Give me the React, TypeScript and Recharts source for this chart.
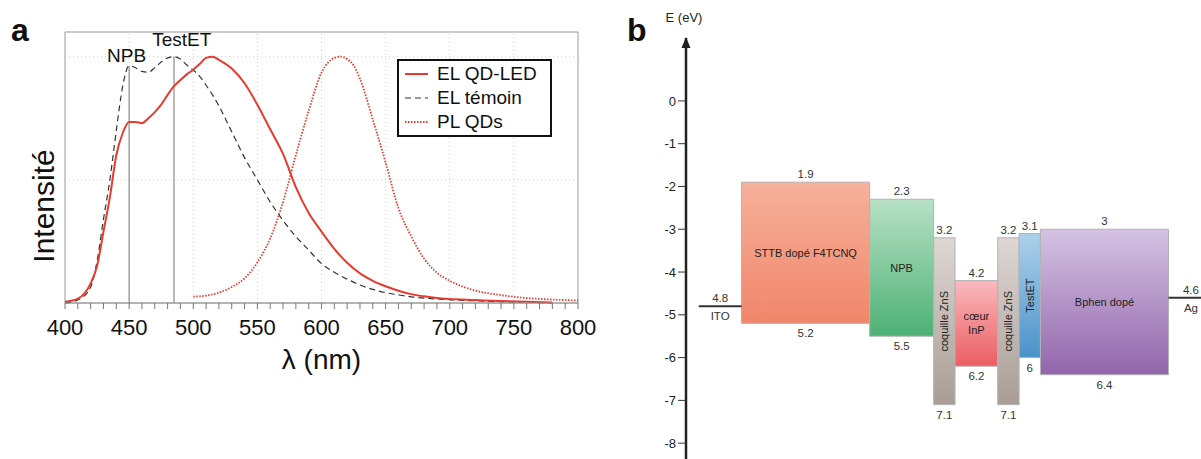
import {
  ComposedChart,
  Legend,
  Line,
  LineChart,
  ReferenceArea,
  ReferenceDot,
  ReferenceLine,
  XAxis,
  YAxis,
} from 'recharts';

const FONT = '"Liberation Sans", Arial, Helvetica, sans-serif';

// ---- panel a : spectra ----
const EL_WAVELENGTHS = [
  400, 410, 420, 425, 430, 435, 440, 445, 450, 455, 460, 465, 470, 475, 480, 485, 490, 495, 500, 505,
  510, 515, 520, 530, 540, 550, 560, 570, 580, 590, 600, 610, 620, 630, 640, 650, 660, 670, 680, 690,
  700, 720, 740, 760, 780,
];
const EL_QDLED = [
  0.005, 0.018, 0.08, 0.15, 0.29, 0.43, 0.6, 0.69, 0.735, 0.735, 0.73, 0.75, 0.775, 0.805, 0.845, 0.88,
  0.905, 0.928, 0.947, 0.97, 0.995, 1.0, 0.987, 0.952, 0.892, 0.805, 0.705, 0.605, 0.47, 0.365, 0.29,
  0.22, 0.163, 0.12, 0.09, 0.068, 0.05, 0.036, 0.027, 0.02, 0.016, 0.012, 0.008, 0.005, 0.002,
];
const EL_TEMOIN = [
  0, 0.012, 0.065, 0.17, 0.34, 0.5, 0.7, 0.88, 0.963, 0.955, 0.94, 0.937, 0.955, 0.978, 0.995, 1.0, 0.99,
  0.966, 0.945, 0.92, 0.884, 0.845, 0.8, 0.695, 0.59, 0.5, 0.41, 0.335, 0.27, 0.215, 0.16, 0.125, 0.097,
  0.073, 0.055, 0.042, 0.033, 0.025, 0.02, 0.016, 0.013, 0.009, 0.005, 0.003, 0.0,
];
const PL_WAVELENGTHS = [
  500, 510, 520, 530, 540, 550, 560, 570, 580, 590, 600, 605, 610, 615, 620, 625, 630, 640, 650, 660,
  670, 680, 690, 700, 720, 740, 760, 780, 800,
];
const PL_QDS = [
  0.026, 0.03, 0.042, 0.065, 0.1, 0.165, 0.262, 0.41, 0.6, 0.78, 0.935, 0.975, 0.995, 1.0, 0.99, 0.965,
  0.91, 0.745, 0.57, 0.385, 0.27, 0.18, 0.123, 0.09, 0.05, 0.032, 0.02, 0.014, 0.01,
];
const X_TICKS = Array.from({ length: 41 }, (_, i) => 400 + i * 10);
const GRID_X = [450, 500, 550, 600, 650, 700, 750];
const GRID_Y = [0.5, 1];
const MARKERS = [
  { name: 'NPB', wl: 450, top: 0.963, labelWl: 448, labelY: 0.98 },
  { name: 'TestET', wl: 485, top: 1.0, labelWl: 491, labelY: 1.045 },
];

const SERIES = [
  { key: 'qdled', name: 'EL QD-LED', color: '#e83a2f', width: 2, dash: undefined },
  { key: 'temoin', name: 'EL témoin', color: '#333', width: 1.2, dash: '6 4' },
  { key: 'pl', name: 'PL QDs', color: '#e83a2f', width: 1.8, dash: '1.5 1.5' },
];

// ---- panel b : energy levels ----
const LAYER_NAMES = ['STTB dopé F4TCNQ', 'NPB', 'coquille ZnS', 'cœur\nInP', 'coquille ZnS', 'TestET', 'Bphen dopé'];
const LAYER_LUMO = [1.9, 2.3, 3.2, 4.2, 3.2, 3.1, 3];
const LAYER_HOMO = [5.2, 5.5, 7.1, 6.2, 7.1, 6, 6.4];
const LAYER_THICKNESS = [6, 3, 1, 2, 1, 1, 6];
const ELECTRODE_NAMES = ['ITO', 'Ag'];
const ELECTRODE_WF = [4.8, 4.6];
const ENERGY_TICKS = [0, -1, -2, -3, -4, -5, -6, -7, -8];

const LAYER_COLORS = [
  ['#f7b19b', '#f0866b'],
  ['#b7e1c6', '#4db175'],
  ['#ded7d4', '#aa9c95'],
  ['#f9b9bc', '#ec5d63'],
  ['#ded7d4', '#aa9c95'],
  ['#add1ea', '#4a92c9'],
  ['#d4c3e3', '#9265ab'],
];

const X_MAX = 24.12;
const STACK_START = 2.6;
const ITO_START = 0.6;
const AG_END = 24.7;

function XTitle({ viewBox }: any) {
  return (
    <text x={viewBox.x + viewBox.width / 2} y={viewBox.y + 66} textAnchor="middle" fontSize={28} fontFamily={FONT} fill="#111">
      λ (nm)
    </text>
  );
}

function YTitle() {
  return (
    <text x={54} y={206} transform="rotate(-90, 54, 206)" textAnchor="middle" fontSize={30} fontFamily={FONT} fill="#111">
      Intensité
    </text>
  );
}

function MarkerLabel({ cx, cy, name }: any) {
  return (
    <text x={cx} y={cy} textAnchor="middle" fontSize={19} fontFamily={FONT} fill="#111">
      {name}
    </text>
  );
}

function LegendBox() {
  return (
    <div
      style={{
        boxSizing: 'border-box',
        border: '2px solid #111',
        background: '#fff',
        padding: '1px 2px 1px 6px',
        fontFamily: FONT,
        fontSize: 19,
        color: '#111',
        width: 155,
        whiteSpace: 'nowrap',
        lineHeight: '24px',
      }}
    >
      {SERIES.map((s) => (
        <div key={s.key} style={{ display: 'flex', alignItems: 'center', height: 24 }}>
          <svg width={23} height={10} style={{ marginRight: 9, flexShrink: 0 }}>
            <line x1={0} y1={5} x2={23} y2={5} stroke={s.color} strokeWidth={s.width} strokeDasharray={s.dash} />
          </svg>
          <span>{s.name}</span>
        </div>
      ))}
    </div>
  );
}

function SpectrumChart() {
  const elData = EL_WAVELENGTHS.map((wl, i) => ({ wl, qdled: EL_QDLED[i], temoin: EL_TEMOIN[i] }));
  const plData = PL_WAVELENGTHS.map((wl, i) => ({ wl, pl: PL_QDS[i] }));

  return (
    <LineChart width={600} height={459} margin={{ top: 32, right: 22, bottom: 0, left: 0 }}>
      <XAxis
        type="number"
        dataKey="wl"
        domain={[400, 800]}
        ticks={X_TICKS}
        interval={0}
        allowDataOverflow
        tickFormatter={(v: number) => (v % 50 === 0 ? String(v) : '')}
        tick={{ fontSize: 22, fill: '#111', fontFamily: FONT }}
        tickSize={6}
        tickMargin={10}
        tickLine={{ stroke: '#777' }}
        axisLine={{ stroke: '#999' }}
        height={78}
        label={<XTitle />}
      />
      <YAxis type="number" domain={[0, 1.1]} ticks={[]} width={65} tick={false} tickLine={false} axisLine={false} label={<YTitle />} />

      {GRID_X.map((x) => (
        <ReferenceLine key={`gx${x}`} x={x} stroke="#cfcfcf" strokeDasharray="1 3" />
      ))}
      {GRID_Y.map((y) => (
        <ReferenceLine key={`gy${y}`} y={y} stroke="#cfcfcf" strokeDasharray="1 3" />
      ))}
      <ReferenceArea x1={400} x2={800} y1={0} y2={1.1} fill="none" stroke="#9a9a9a" strokeWidth={1} />

      {MARKERS.map((m) => (
        <ReferenceLine
          key={m.name}
          segment={[
            { x: m.wl, y: 0 },
            { x: m.wl, y: m.top },
          ]}
          stroke="#777"
          strokeWidth={1}
        />
      ))}
      {MARKERS.map((m) => (
        <ReferenceDot key={`l${m.name}`} x={m.labelWl} y={m.labelY} r={0} ifOverflow="visible" shape={(p: any) => <MarkerLabel {...p} name={m.name} />} />
      ))}

      <Line data={elData} dataKey="temoin" type="monotone" stroke="#333" strokeWidth={1.2} strokeDasharray="6 4" dot={false} isAnimationActive={false} />
      <Line data={plData} dataKey="pl" type="monotone" stroke="#e83a2f" strokeWidth={1.8} strokeDasharray="1.5 1.5" dot={false} isAnimationActive={false} />
      <Line data={elData} dataKey="qdled" type="monotone" stroke="#e83a2f" strokeWidth={2} dot={false} isAnimationActive={false} />

      <Legend content={() => <LegendBox />} wrapperStyle={{ position: 'absolute', left: 397, top: 59, width: 'auto', bottom: 'auto' }} />
    </LineChart>
  );
}

function LayerLabel({ viewBox, name, lumo, homo, vertical }: any) {
  const { x, y, width, height } = viewBox;
  const cx = x + width / 2;
  const cy = y + height / 2;
  const lines = String(name).split('\n');
  return (
    <g fontFamily={FONT} fill="#333">
      <text x={cx} y={y - 4} textAnchor="middle" fontSize={11.5}>
        {String(lumo)}
      </text>
      <text x={cx} y={y + height + 14} textAnchor="middle" fontSize={11.5}>
        {String(homo)}
      </text>
      {vertical ? (
        <text x={cx + 4} y={cy} transform={`rotate(-90, ${cx + 4}, ${cy})`} textAnchor="middle" fontSize={11} fill="#222">
          {name}
        </text>
      ) : (
        lines.map((ln, i) => (
          <text key={i} x={cx} y={cy + 4 + (i - (lines.length - 1) / 2) * 14} textAnchor="middle" fontSize={11} fill="#222">
            {ln}
          </text>
        ))
      )}
    </g>
  );
}

function ElectrodeLabel({ cx, cy, name, wf }: any) {
  return (
    <g fontFamily={FONT} fill="#333" fontSize={11.5}>
      <text x={cx} y={cy - 4} textAnchor="middle">
        {String(wf)}
      </text>
      <text x={cx} y={cy + 14} textAnchor="middle">
        {name}
      </text>
    </g>
  );
}

function AxisArrow({ cx, cy }: any) {
  return (
    <g>
      <polygon points={`${cx},${cy - 1} ${cx - 4.5},${cy + 10} ${cx + 4.5},${cy + 10}`} fill="#222" />
      <text x={cx - 2} y={cy - 16} textAnchor="middle" fontSize={13} fontFamily={FONT} fill="#222">
        E (eV)
      </text>
    </g>
  );
}

function EnergyChart() {
  const starts: number[] = [];
  let pos = STACK_START;
  LAYER_THICKNESS.forEach((t) => {
    starts.push(pos);
    pos += t;
  });
  const stackEnd = pos;
  const electrodes = [
    { x1: ITO_START, x2: STACK_START },
    { x1: stackEnd, x2: AG_END },
  ];

  return (
    <ComposedChart width={601} height={459} data={[]} margin={{ top: 38, right: 0, bottom: 0, left: 46 }}>
      <defs>
        {LAYER_COLORS.map(([top, bottom], i) => (
          <linearGradient key={i} id={`layer-grad-${i}`} x1="0" y1="0" x2="0" y2="1">
            <stop offset="0%" stopColor={top} />
            <stop offset="100%" stopColor={bottom} />
          </linearGradient>
        ))}
      </defs>
      <XAxis type="number" dataKey="x" domain={[0, X_MAX]} hide allowDataOverflow />
      <YAxis
        type="number"
        domain={[-8.37, 1.47]}
        ticks={ENERGY_TICKS}
        interval={0}
        allowDataOverflow
        width={40}
        tickSize={8}
        tickMargin={2}
        tick={{ fontSize: 13, fill: '#222', fontFamily: FONT }}
        tickLine={{ stroke: '#333', strokeWidth: 1 }}
        axisLine={{ stroke: '#222', strokeWidth: 2.5 }}
      />

      {LAYER_NAMES.map((name, i) => (
        <ReferenceArea
          key={i}
          x1={starts[i]}
          x2={starts[i] + LAYER_THICKNESS[i]}
          y1={-LAYER_HOMO[i]}
          y2={-LAYER_LUMO[i]}
          fill={`url(#layer-grad-${i})`}
          fillOpacity={1}
          stroke="#b3b3b3"
          strokeWidth={1}
          ifOverflow="visible"
          label={<LayerLabel name={name} lumo={LAYER_LUMO[i]} homo={LAYER_HOMO[i]} vertical={LAYER_THICKNESS[i] === 1} />}
        />
      ))}

      {ELECTRODE_NAMES.map((name, i) => (
        <ReferenceLine
          key={name}
          segment={[
            { x: electrodes[i].x1, y: -ELECTRODE_WF[i] },
            { x: electrodes[i].x2, y: -ELECTRODE_WF[i] },
          ]}
          stroke="#333"
          strokeWidth={2}
          ifOverflow="hidden"
        />
      ))}
      {ELECTRODE_NAMES.map((name, i) => (
        <ReferenceDot
          key={`e${name}`}
          x={(electrodes[i].x1 + electrodes[i].x2) / 2}
          y={-ELECTRODE_WF[i]}
          r={0}
          ifOverflow="visible"
          shape={(p: any) => <ElectrodeLabel {...p} name={name} wf={ELECTRODE_WF[i]} />}
        />
      ))}

      <ReferenceDot x={0} y={1.47} r={0} ifOverflow="visible" shape={(p: any) => <AxisArrow {...p} />} />
    </ComposedChart>
  );
}

export default function App() {
  return (
    <div style={{ position: 'absolute', left: 0, top: 0, width: 1201, height: 459, background: '#fff', fontFamily: FONT }}>
      <div style={{ position: 'absolute', left: 0, top: 0 }}>
        <SpectrumChart />
      </div>
      <div style={{ position: 'absolute', left: 600, top: 0 }}>
        <EnergyChart />
      </div>
      <div style={{ position: 'absolute', left: 11, top: 14, fontSize: 32, fontWeight: 'bold', lineHeight: '32px', color: '#111' }}>a</div>
      <div style={{ position: 'absolute', left: 627, top: 14, fontSize: 32, fontWeight: 'bold', lineHeight: '32px', color: '#111' }}>b</div>
    </div>
  );
}
